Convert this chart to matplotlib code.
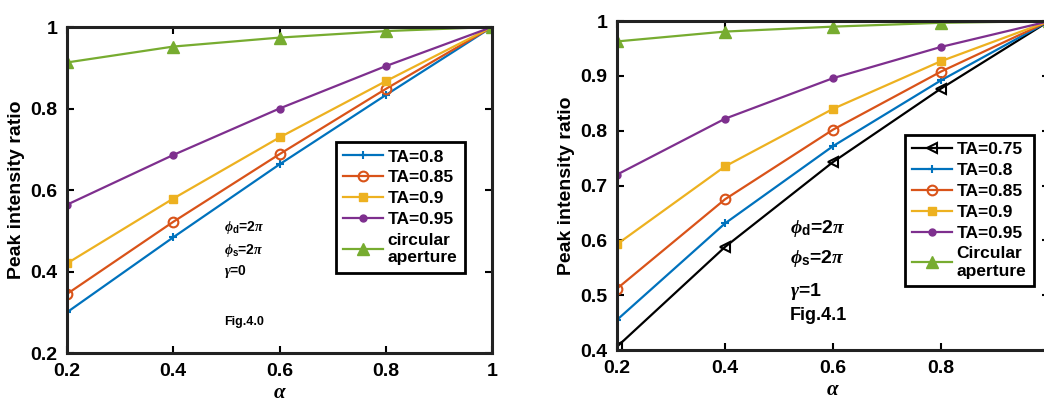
import numpy as np
import matplotlib.pyplot as plt

plt.rcParams['font.family'] = 'Liberation Sans'
plt.rcParams['font.weight'] = 'bold'
plt.rcParams['mathtext.fontset'] = 'custom'
plt.rcParams['mathtext.rm'] = 'Liberation Sans:bold'
plt.rcParams['mathtext.bf'] = 'Liberation Sans:bold'
plt.rcParams['mathtext.it'] = 'Liberation Serif:italic'

# data
alpha = [0.2, 0.4, 0.6, 0.8, 1.0]

g0_ta80 = [0.300, 0.484, 0.663, 0.833, 1.0]
g0_ta85 = [0.345, 0.522, 0.688, 0.848, 1.0]
g0_ta90 = [0.420, 0.579, 0.729, 0.867, 1.0]
g0_ta95 = [0.564, 0.686, 0.800, 0.904, 1.0]
g0_circ = [0.913, 0.952, 0.974, 0.990, 1.0]

g1_ta75 = [0.406, 0.588, 0.743, 0.877, 1.0]
g1_ta80 = [0.455, 0.631, 0.772, 0.892, 1.0]
g1_ta85 = [0.512, 0.675, 0.802, 0.908, 1.0]
g1_ta90 = [0.593, 0.735, 0.840, 0.927, 1.0]
g1_ta95 = [0.720, 0.822, 0.896, 0.953, 1.0]
g1_circ = [0.963, 0.981, 0.990, 0.997, 1.0]

blue = '#0072BD'
red = '#D95319'
yellow = '#EDB120'
purple = '#7E2F8E'
green = '#77AC30'

fig = plt.figure(figsize=(10.44, 4.03), dpi=100)
ax1 = fig.add_axes([0.0642, 0.124, 0.4071, 0.809])
ax2 = fig.add_axes([0.591, 0.1315, 0.4138, 0.816])

lw = 1.6


def style_axes(ax):
    for s in ax.spines.values():
        s.set_linewidth(2.2)
        s.set_color('#222222')
    ax.tick_params(direction='in', length=5, width=1.5, top=True, right=True,
                   labelsize=14, pad=7)
    for lab in ax.get_xticklabels() + ax.get_yticklabels():
        lab.set_fontweight('bold')
    ax.set_ylabel('Peak intensity ratio', fontsize=14, fontweight='bold')
    ax.set_xlabel(r'$\alpha$', fontsize=15, labelpad=2)


def add_legend(ax, anchor):
    leg = ax.legend(loc='upper left', bbox_to_anchor=anchor, fontsize=12.5,
                    fancybox=False, edgecolor='black', framealpha=1,
                    handlelength=2.3, handletextpad=0.25, borderpad=0.42,
                    labelspacing=0.33, borderaxespad=0)
    leg.get_frame().set_linewidth(2.0)


# left panel, gamma = 0
ax1.plot(alpha, g0_ta80, color=blue, lw=lw, marker='+', ms=6, mew=1.5, label='TA=0.8')
ax1.plot(alpha, g0_ta85, color=red, lw=lw, marker='o', ms=7, mfc='none', mew=1.5, label='TA=0.85')
ax1.plot(alpha, g0_ta90, color=yellow, lw=lw, marker='s', ms=6, label='TA=0.9')
ax1.plot(alpha, g0_ta95, color=purple, lw=lw, marker='o', ms=5, label='TA=0.95')
ax1.plot(alpha, g0_circ, color=green, lw=lw, marker='^', ms=8, label='circular\naperture')
ax1.set_xlim(0.2, 1)
ax1.set_ylim(0.2, 1)
ax1.set_xticks([0.2, 0.4, 0.6, 0.8, 1])
ax1.set_xticklabels(['0.2', '0.4', '0.6', '0.8', '1'])
ax1.set_yticks([0.2, 0.4, 0.6, 0.8, 1])
ax1.set_yticklabels(['0.2', '0.4', '0.6', '0.8', '1'])
style_axes(ax1)
add_legend(ax1, (0.633, 0.647))
ax1.text(0.37, 0.375, r'$\phi_\mathrm{d}$=2$\pi$', transform=ax1.transAxes, fontsize=10)
ax1.text(0.37, 0.305, r'$\phi_\mathrm{s}$=2$\pi$', transform=ax1.transAxes, fontsize=10)
ax1.text(0.37, 0.24, r'$\gamma$=0', transform=ax1.transAxes, fontsize=10)
ax1.text(0.37, 0.085, 'Fig.4.0', transform=ax1.transAxes, fontsize=9)

# right panel, gamma = 1
ax2.plot(alpha, g1_ta75, color='black', lw=lw, marker='<', ms=7, mfc='none', mew=1.5, label='TA=0.75')
ax2.plot(alpha, g1_ta80, color=blue, lw=lw, marker='+', ms=6, mew=1.5, label='TA=0.8')
ax2.plot(alpha, g1_ta85, color=red, lw=lw, marker='o', ms=7, mfc='none', mew=1.5, label='TA=0.85')
ax2.plot(alpha, g1_ta90, color=yellow, lw=lw, marker='s', ms=6, label='TA=0.9')
ax2.plot(alpha, g1_ta95, color=purple, lw=lw, marker='o', ms=5, label='TA=0.95')
ax2.plot(alpha, g1_circ, color=green, lw=lw, marker='^', ms=8, label='Circular\naperture')
ax2.set_xlim(0.2, 1)
ax2.set_ylim(0.4, 1)
ax2.set_xticks([0.2, 0.4, 0.6, 0.8, 1])
ax2.set_xticklabels(['0.2', '0.4', '0.6', '0.8', ''])
ax2.set_yticks([0.4, 0.5, 0.6, 0.7, 0.8, 0.9, 1])
ax2.set_yticklabels(['0.4', '0.5', '0.6', '0.7', '0.8', '0.9', '1'])
style_axes(ax2)
add_legend(ax2, (0.667, 0.655))
ax2.text(0.4, 0.355, r'$\phi_\mathrm{d}$=2$\pi$', transform=ax2.transAxes, fontsize=14)
ax2.text(0.4, 0.265, r'$\phi_\mathrm{s}$=2$\pi$', transform=ax2.transAxes, fontsize=14)
ax2.text(0.4, 0.165, r'$\gamma$=1', transform=ax2.transAxes, fontsize=14)
ax2.text(0.4, 0.09, 'Fig.4.1', transform=ax2.transAxes, fontsize=13)

plt.savefig('out.png', dpi=100)
